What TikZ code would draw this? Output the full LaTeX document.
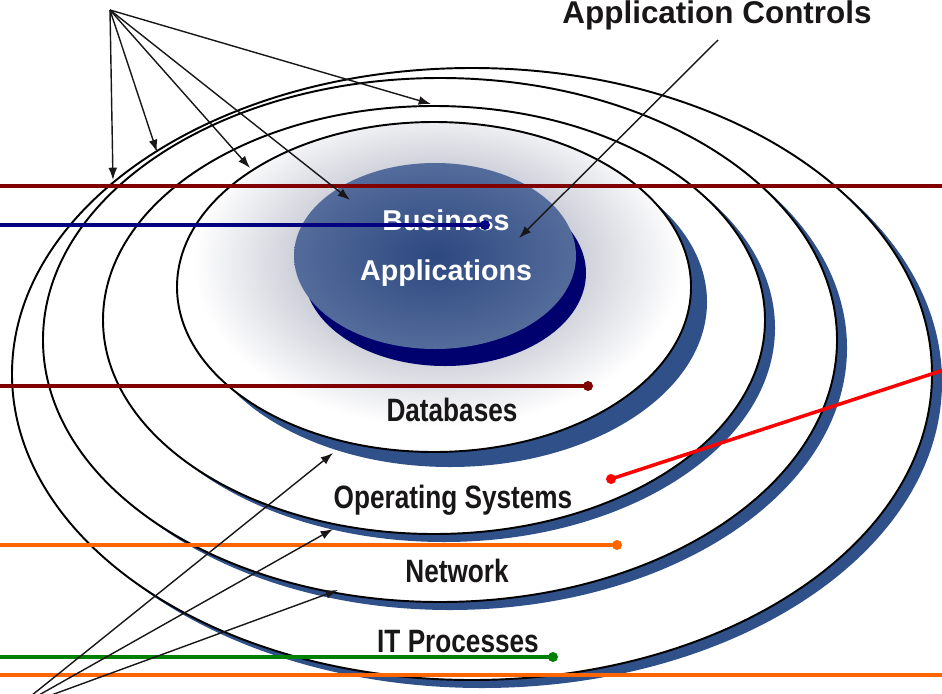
\documentclass[tikz,border=0pt]{standalone}
\usepackage{fontspec}
\setmainfont{Liberation Sans}
\newfontfamily\narrowsans[FakeStretch=0.81]{Liberation Sans}
\usetikzlibrary{arrows.meta}

\definecolor{ringblue}{RGB}{47,80,136}
\definecolor{glowgray}{RGB}{204,206,216}
\definecolor{bizlight}{RGB}{84,108,155}
\definecolor{bizdark}{RGB}{45,72,128}
\definecolor{bizshadow}{RGB}{0,0,110}
\definecolor{inkblack}{RGB}{25,22,23}
\definecolor{ctrldarkred}{RGB}{128,0,0}
\definecolor{ctrlnavy}{RGB}{0,0,128}
\definecolor{ctrlred}{RGB}{255,0,0}
\definecolor{ctrlorange}{RGB}{255,102,0}
\definecolor{ctrlgreen}{RGB}{0,128,0}

\pgfdeclareradialshading{bizglow}{\pgfpoint{0bp}{0bp}}{color(0bp)=(glowgray); color(14bp)=(glowgray); color(25bp)=(white); color(50bp)=(white)}

\tikzset{
  ring/.style={draw=black, fill=white, line width=1.1pt},
  ringshadow/.style={fill=ringblue},
  pointer/.style={draw=inkblack, line width=0.8pt, -{Latex[length=7pt,width=5pt]}},
  layerline/.style={line width=2pt},
  ringlabel/.style={font=\fontsize{18.4}{20}\narrowsans\bfseries, text=inkblack},
  bizlabel/.style={font=\fontsize{16.3}{18}\selectfont\bfseries, text=white},
}

\begin{document}
\begin{tikzpicture}[x=0.02cm, y=-0.02cm]
    \useasboundingbox (0,0) rectangle (942,693);

    % IT Processes ring
    \fill[ringshadow] (482,382) ellipse [x radius=460, y radius=306];
    \path[ring] (472,374) ellipse [x radius=460, y radius=306];

    % Network ring
    \fill[ringshadow] (450,348) ellipse [x radius=397, y radius=262];
    \path[ring] (440,340) ellipse [x radius=397, y radius=262];

    % Operating Systems ring
    \fill[ringshadow] (444,328) ellipse [x radius=331, y radius=214];
    \path[ring] (434,320) ellipse [x radius=331, y radius=214];

    % Databases ring with glow
    \fill[ringshadow] (450,302) ellipse [x radius=257, y radius=165];
    \fill[white] (434,287) ellipse [x radius=257, y radius=165];
    \begin{scope}
        \clip (434,287) ellipse [x radius=257, y radius=165];
        \shade[shading=bizglow] (438,262) ellipse [x radius=245, y radius=165];
    \end{scope}
    \draw[line width=1.1pt] (434,287) ellipse [x radius=257, y radius=165];

    % Business Applications core
    \fill[bizshadow] (445,273) ellipse [x radius=141, y radius=93];
    \shade[inner color=bizdark, outer color=bizlight] (435,256) ellipse [x radius=141, y radius=93];

    % Labels
    \node[bizlabel, anchor=base] (bizname) at (446,230) {Business};
    \node[bizlabel, anchor=base] (bizapps) at (446,280) {Applications};
    \node[ringlabel, anchor=base] (dblabel) at (452,421) {Databases};
    \node[ringlabel, anchor=base] (oslabel) at (453,508) {Operating Systems};
    \node[ringlabel, anchor=base] (netlabel) at (457,582) {Network};
    \node[ringlabel, anchor=base] (itlabel) at (458,652) {IT Processes};
    \node[font=\fontsize{17.9}{20}\selectfont\bfseries, text=inkblack, anchor=base] (appctrl) at (717,23) {Application Controls};

    % Line ends
    \coordinate (topleft) at (0,186);   \coordinate (topright) at (942,186);
    \coordinate (bizleft) at (0,225);   \coordinate (bizdot) at (485,225);
    \coordinate (dbleft) at (0,386);    \coordinate (dbdot) at (588,386);
    \coordinate (osdot) at (611,479);   \coordinate (osright) at (962,364);
    \coordinate (netleft) at (0,545);   \coordinate (netdot) at (617,545);
    \coordinate (itleft) at (0,657);    \coordinate (itdot) at (553,657);
    \coordinate (botleft) at (0,675);   \coordinate (botright) at (942,675);

    % Coloured layer lines
    \draw[layerline, ctrldarkred] (topleft) -- (topright);
    \draw[layerline, ctrlnavy] (bizleft) -- (bizdot);
    \fill[ctrlnavy] (bizdot) circle (5);
    \draw[layerline, ctrldarkred] (dbleft) -- (dbdot);
    \fill[ctrldarkred] (dbdot) circle (5);
    \draw[layerline, ctrlred] (osdot) -- (osright);
    \fill[ctrlred] (osdot) circle (5);
    \draw[layerline, ctrlorange] (netleft) -- (netdot);
    \fill[ctrlorange] (netdot) circle (5);
    \draw[layerline, ctrlgreen] (itleft) -- (itdot);
    \fill[ctrlgreen] (itdot) circle (5);
    \draw[layerline, ctrlorange] (botleft) -- (botright);

    % Arrows from the top
    \coordinate (gensrc) at (110,10);
    \coordinate (ittop) at (113,180);
    \coordinate (nettop) at (157,152);
    \coordinate (dbtop) at (250,168);
    \coordinate (biztop) at (350,200);
    \coordinate (ostop) at (431,104);
    \draw[pointer] (gensrc) -- (ittop);
    \draw[pointer] (gensrc) -- (nettop);
    \draw[pointer] (gensrc) -- (dbtop);
    \draw[pointer] (gensrc) -- (biztop);
    \draw[pointer] (gensrc) -- (ostop);

    % Arrows from the bottom
    \coordinate (procsrc) at (16,708);
    \coordinate (dbbot) at (333,453);
    \coordinate (osbot) at (333,529);
    \coordinate (netbot) at (338,590);
    \draw[pointer] (procsrc) -- (dbbot);
    \draw[pointer] (procsrc) -- (osbot);
    \draw[pointer] (procsrc) -- (netbot);

    % Application Controls arrow
    \coordinate (ctrlsrc) at (718,40);
    \coordinate (ctrltip) at (519,238);
    \draw[pointer] (ctrlsrc) -- (ctrltip);
\end{tikzpicture}
\end{document}
